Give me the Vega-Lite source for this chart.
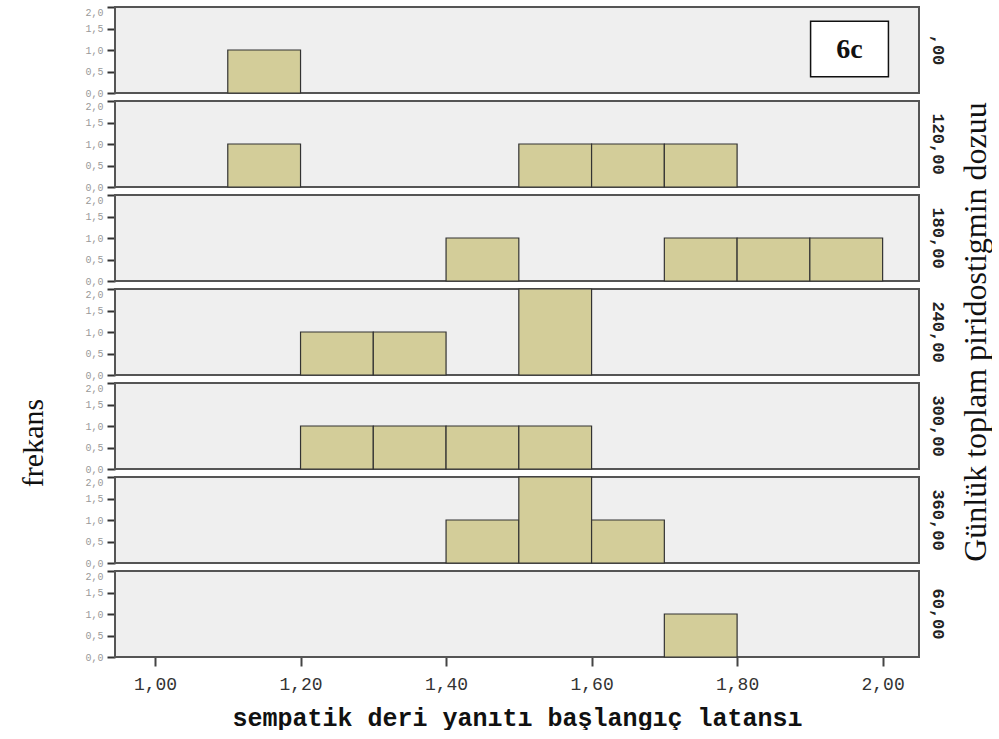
{
  "$schema": "https://vega.github.io/schema/vega-lite/v6.json",
  "background": "white",
  "padding": {"left": 18, "top": 6, "right": 0, "bottom": 0},
  "bounds": "flush",
  "title": {"text": "frekans", "orient": "left", "anchor": "middle", "frame": "bounds", "font": "Liberation Serif", "fontSize": 30, "fontWeight": "normal", "color": "#111", "dx": -75, "offset": 36},
  "data": {"values": [
    {"doz": ",00", "b0": 1.1, "b1": 1.2, "n": 1},
    {"doz": ",00", "bx1": 1.901, "bx2": 2.008, "by1": 0.38, "by2": 1.67, "tx": 1.9545, "ty": 1.0, "label": "6c"},
    {"doz": "120,00", "b0": 1.1, "b1": 1.2, "n": 1},
    {"doz": "120,00", "b0": 1.5, "b1": 1.6, "n": 1},
    {"doz": "120,00", "b0": 1.6, "b1": 1.7, "n": 1},
    {"doz": "120,00", "b0": 1.7, "b1": 1.8, "n": 1},
    {"doz": "180,00", "b0": 1.4, "b1": 1.5, "n": 1},
    {"doz": "180,00", "b0": 1.7, "b1": 1.8, "n": 1},
    {"doz": "180,00", "b0": 1.8, "b1": 1.9, "n": 1},
    {"doz": "180,00", "b0": 1.9, "b1": 2.0, "n": 1},
    {"doz": "240,00", "b0": 1.2, "b1": 1.3, "n": 1},
    {"doz": "240,00", "b0": 1.3, "b1": 1.4, "n": 1},
    {"doz": "240,00", "b0": 1.5, "b1": 1.6, "n": 2},
    {"doz": "300,00", "b0": 1.2, "b1": 1.3, "n": 1},
    {"doz": "300,00", "b0": 1.3, "b1": 1.4, "n": 1},
    {"doz": "300,00", "b0": 1.4, "b1": 1.5, "n": 1},
    {"doz": "300,00", "b0": 1.5, "b1": 1.6, "n": 1},
    {"doz": "360,00", "b0": 1.4, "b1": 1.5, "n": 1},
    {"doz": "360,00", "b0": 1.5, "b1": 1.6, "n": 2},
    {"doz": "360,00", "b0": 1.6, "b1": 1.7, "n": 1},
    {"doz": "60,00", "b0": 1.7, "b1": 1.8, "n": 1}
  ]},
  "facet": {
    "row": {
      "field": "doz", "type": "nominal", "sort": "ascending",
      "title": "Günlük toplam piridostigmin dozuu",
      "header": {
        "labelOrient": "right", "labelAngle": 90, "labelAlign": "center", "labelBaseline": "middle",
        "labelFont": "Liberation Mono", "labelFontWeight": "bold", "labelFontSize": 17, "labelColor": "#222", "labelPadding": 2,
        "titleOrient": "right", "titleAngle": -90, "titleFont": "Liberation Serif", "titleFontSize": 32, "titleFontWeight": "normal", "titleColor": "#111", "titlePadding": 4
      }
    }
  },
  "spacing": 8,
  "spec": {
    "width": 804,
    "height": 86,
    "layer": [
      {
        "transform": [{"filter": "datum.n != null"}],
        "mark": {"type": "rect", "fill": "#d3cd99", "stroke": "#333", "strokeWidth": 1.2},
        "encoding": {
          "x": {"field": "b0", "type": "quantitative", "scale": {"domain": [0.945, 2.05], "nice": false, "zero": false},
            "title": "sempatik deri yanıtı başlangıç latansı",
            "axis": {"values": [1, 1.2, 1.4, 1.6, 1.8, 2.0], "tickCount": 20, "labelExpr": "replace(format(datum.value, '.2f'), '.', ',')",
              "domain": false, "grid": false, "tickSize": 9, "tickWidth": 2, "tickColor": "#444",
              "labelFont": "Liberation Mono", "labelFontSize": 18, "labelColor": "#333", "labelPadding": 9,
              "titleFont": "Liberation Mono", "titleFontSize": 25, "titleFontWeight": "bold", "titleColor": "#111", "titlePadding": 12}},
          "x2": {"field": "b1"},
          "y": {"field": "n", "type": "quantitative", "scale": {"domain": [0, 2], "nice": false}, "title": null,
            "axis": {"values": [0, 0.5, 1, 1.5, 2], "tickCount": 20, "labelExpr": "replace(format(datum.value, '.1f'), '.', ',')",
              "labelOverlap": false, "labelFlush": false,
              "labelBaseline": {"condition": {"test": "datum.value == 2", "value": "top"}, "value": "middle"},
              "domain": false, "grid": false, "tickSize": 8, "tickWidth": 2, "tickColor": "#333",
              "labelFont": "Liberation Mono", "labelFontSize": 10, "labelColor": "#999", "labelPadding": 4}},
          "y2": {"datum": 0}
        }
      },
      {
        "transform": [{"filter": "datum.label != null"}],
        "mark": {"type": "rect", "fill": "white", "stroke": "#111", "strokeWidth": 1.5},
        "encoding": {
          "x": {"field": "bx1", "type": "quantitative"},
          "x2": {"field": "bx2"},
          "y": {"field": "by1", "type": "quantitative"},
          "y2": {"field": "by2"}
        }
      },
      {
        "transform": [{"filter": "datum.label != null"}],
        "mark": {"type": "text", "font": "Liberation Serif", "fontSize": 28, "fontWeight": "bold", "color": "#111", "align": "center", "baseline": "middle"},
        "encoding": {
          "x": {"field": "tx", "type": "quantitative"},
          "y": {"field": "ty", "type": "quantitative"},
          "text": {"field": "label"}
        }
      }
    ]
  },
  "config": {
    "view": {"fill": "#efefef", "stroke": "#555", "strokeWidth": 2}
  }
}
